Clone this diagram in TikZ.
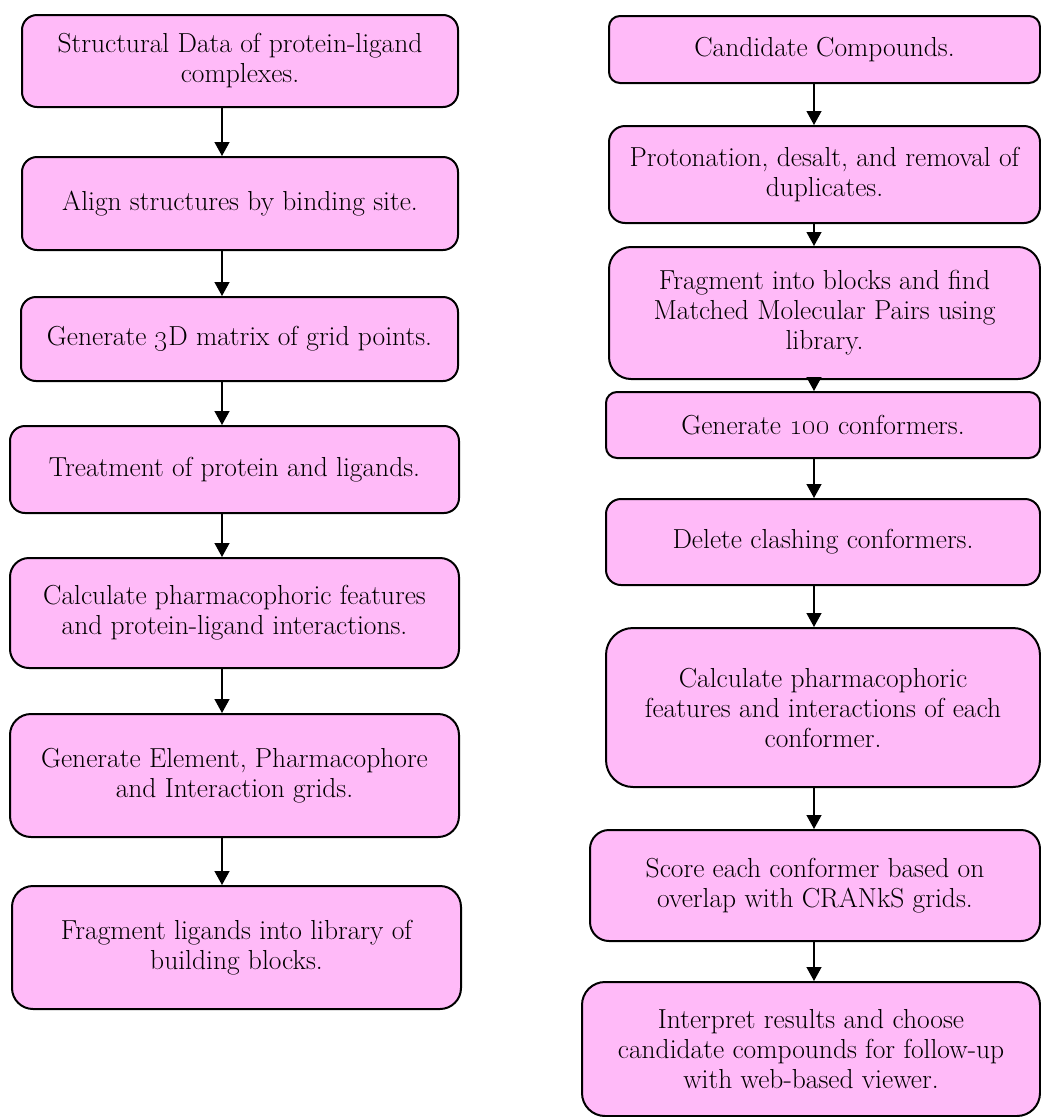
\documentclass[tikz,border=0pt]{standalone}
\usepackage{tikz}
\usetikzlibrary{arrows.meta, positioning}
\definecolor{boxpink}{HTML}{FFBAF8}
\tikzset{
  % Set arrowhead
  >={Triangle[width=15pt, length=14pt]},
  % Flowchart step, corner radius as argument
  stepbox/.style={draw, line width=2pt, fill=boxpink, rounded corners=#1,
    align=center, inner sep=0pt, font=\fontsize{27.5}{30}\selectfont},
  stepbox/.default=15pt,
  % Box size
  boxsize/.style 2 args={minimum width=#1, minimum height=#2},
  % Arrow between steps
  flow/.style={->, line width=1.3pt},
}

\begin{document}
\begin{tikzpicture}[x=1pt, y=-1pt]
  \useasboundingbox (0,0) rectangle (1041,1117);

  % left column
  \node[stepbox, boxsize={436pt}{92pt}] (l1) at (240,61)
    {Structural Data of protein-ligand\\complexes.};
  \node[stepbox, boxsize={436pt}{93pt}] (l2) at (240,203.5)
    {Align structures by binding site.};
  \node[stepbox, boxsize={437pt}{84pt}] (l3) at (239.5,339)
    {Generate \oldstylenums{3}D matrix of grid points.};
  \node[stepbox, boxsize={449pt}{87pt}] (l4) at (234.5,469.5)
    {Treatment of protein and ligands.};
  \node[stepbox=19pt, boxsize={449pt}{110pt}] (l5) at (234.5,613)
    {Calculate pharmacophoric features\\and protein-ligand interactions.};
  \node[stepbox=21pt, boxsize={449pt}{123pt}] (l6) at (234.5,775.5)
    {Generate Element, Pharmacophore\\and Interaction grids.};
  \node[stepbox=21pt, boxsize={449pt}{123pt}] (l7) at (236.5,947.5)
    {Fragment ligands into library of\\building blocks.};

  % right column
  \node[stepbox=11pt, boxsize={431pt}{67pt}] (r1) at (824.5,49.5)
    {Candidate Compounds.};
  \node[stepbox=16pt, boxsize={431pt}{97pt}] (r2) at (824.5,174.5)
    {Protonation, desalt, and removal of\\duplicates.};
  \node[stepbox=22pt, boxsize={431pt}{132pt}] (r3) at (824.5,313)
    {Fragment into blocks and find\\Matched Molecular Pairs using\\library.};
  \node[stepbox=11pt, boxsize={434pt}{66pt}] (r4) at (823,425)
    {Generate \oldstylenums{100} conformers.};
  \node[stepbox, boxsize={434pt}{86pt}] (r5) at (823,542)
    {Delete clashing conformers.};
  \node[stepbox=27pt, boxsize={434pt}{159pt}] (r6) at (823,707.5)
    {Calculate pharmacophoric\\features and interactions of each\\conformer.};
  \node[stepbox=19pt, boxsize={450pt}{111pt}] (r7) at (815,885.5)
    {Score each conformer based on\\overlap with CRANkS grids.};
  \node[stepbox=23pt, boxsize={458pt}{134pt}] (r8) at (811,1049)
    {Interpret results and choose\\candidate compounds for follow-up\\with web-based viewer.};

  % arrows
  \coordinate (la) at (222,0);
  \coordinate (ra) at (814,0);
  \foreach \a/\b in {l1/l2, l2/l3, l3/l4, l4/l5, l5/l6, l6/l7}
    \draw[flow] (\a.south -| la) -- (\b.north -| la);
  \foreach \a/\b in {r1/r2, r2/r3, r3/r4, r4/r5, r5/r6, r6/r7, r7/r8}
    \draw[flow] (\a.south -| ra) -- (\b.north -| ra);
\end{tikzpicture}
\end{document}
